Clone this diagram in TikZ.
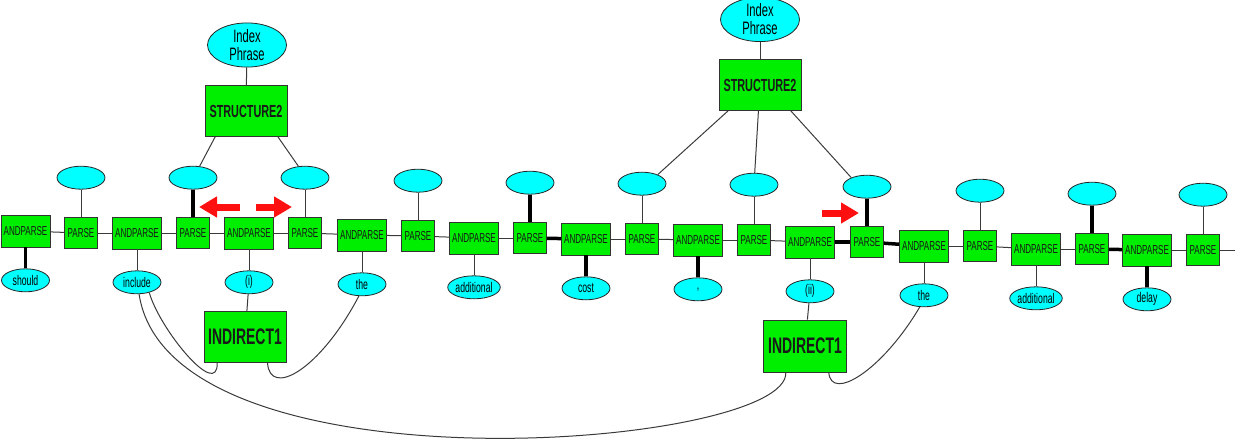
\documentclass[tikz,border=0pt]{standalone}
\usepackage{fontspec}
\usetikzlibrary{arrows.meta,positioning,shapes.geometric}
\newfontfamily\narrowsans[FakeStretch=0.62]{Liberation Sans}
\definecolor{boxgreen}{HTML}{00EE00}
\definecolor{wordcyan}{HTML}{00FFFF}
\definecolor{linkgray}{HTML}{3A3A3A}
\definecolor{markred}{HTML}{FF1010}

\begin{document}
\begin{tikzpicture}[x=1pt,y=1pt,
  greenbox/.style={draw=black!80,fill=boxgreen,line width=0.8pt,inner sep=0pt,text=black!90},
  andbox/.style={greenbox,minimum width=49pt,minimum height=32pt,font=\narrowsans\fontsize{13}{14}\selectfont},
  parsebox/.style={greenbox,minimum width=33pt,minimum height=31pt,font=\narrowsans\fontsize{13}{14}\selectfont},
  rulebox/.style={greenbox,minimum width=82pt,minimum height=51pt},
  topell/.style={ellipse,draw=black!85,fill=wordcyan,line width=0.8pt,inner sep=0pt,minimum width=48pt,minimum height=23pt},
  wordell/.style={topell,font=\narrowsans\fontsize{14}{15}\selectfont},
  phrase/.style={topell,minimum width=79pt,minimum height=38pt,align=center,font=\narrowsans\fontsize{18}{18}\selectfont},
  link/.style={linkgray,line width=1pt},
  heavy/.style={black,line width=3.5pt},
  pointer/.style={markred,line width=7pt,-{Triangle[length=18pt,width=20pt]}}]
  \useasboundingbox (0,0) rectangle (1235,-440);

  % the chain of ANDPARSE / PARSE nodes
  \foreach \i/\ax/\ay/\px/\py/\word in {1/25.5/231/81/233/should, 2/137/233/193/233/include,
      3/249/233/305/233/{(i)}, 4/362/235/418/236/the, 5/474/238/530/238/additional,
      6/586/239/642/239/cost, 7/698/240/754/240/{,}, 8/810/242/867/242/{(ii)},
      9/924/246/980/246/the, 10/1036/249/1092/249/additional, 11/1147/250/1203/250/delay} {
    \node[andbox] (ap\i) at (\ax,-\ay) {ANDPARSE};
    \node[parsebox] (p\i) at (\px,-\py) {PARSE};
    \node[topell, above=27.5pt of p\i] (t\i) {};
    \node[wordell, below=21pt of ap\i] (w\i) {\word};
    \draw[link] (ap\i) -- (w\i);
    \draw[link] (p\i) -- (t\i);
    \draw[link] (ap\i) -- (p\i);
  }
  \foreach \i in {1,...,10} {
    \pgfmathtruncatemacro{\j}{\i+1}
    \draw[link] (p\i) -- (ap\j);
  }
  \coordinate (rowend) at (1235,-250);
  \draw[link] (p11) -- (rowend);
  \foreach \a/\b in {ap1/w1,p2/t2,p5/t5,p5/ap6,ap6/w6,ap7/w7,ap8/p8,p8/t8,p8/ap9,p10/t10,p10/ap11,ap11/w11}
    \draw[heavy] (\a) -- (\b);

  % structures above
  \node[rulebox,font=\narrowsans\bfseries\fontsize{17.5}{18}\selectfont] (st1) at (246,-111) {STRUCTURE2};
  \node[phrase] (ip1) at (247,-45) {Index\\Phrase};
  \node[rulebox,font=\narrowsans\bfseries\fontsize{17.5}{18}\selectfont] (st2) at (760,-85) {STRUCTURE2};
  \node[phrase,minimum height=37pt] (ip2) at (760,-19.5) {Index\\Phrase};
  \draw[link] (ip1) -- (st1);
  \draw[link] (st1.-140) -- (t2.60);
  \draw[link] (st1.-39) -- (t3.120);
  \draw[link] (ip2) -- (st2);
  \draw[link] (st2.-141) -- (t6.30);
  \draw[link] (st2) -- (t7);
  \draw[link] (st2.-40) -- (t8.150);

  % indirect links below
  \node[rulebox,font=\narrowsans\bfseries\fontsize{22.5}{23}\selectfont] (ind1) at (245,-337) {INDIRECT1};
  \node[rulebox,minimum width=83pt,minimum height=52pt,font=\narrowsans\bfseries\fontsize{22.5}{23}\selectfont] (ind2) at (805,-346) {INDIRECT1};
  \draw[link] (w3) -- (ind1);
  \draw[link] (w8) -- (ind2);
  \draw[link] (w2.-40) .. controls (160,-330) and (218,-400) .. (ind1.-137);
  \draw[link] (ind1.-49) .. controls (270,-398) and (320,-370) .. (w4.-105);
  \draw[link] (w2.-80) .. controls (170,-498) and (790,-448) .. (ind2.-126);
  \draw[link] (ind2.-48) .. controls (831,-402) and (882,-371) .. (w9.-110);

  % red pointers
  \coordinate (lefttail) at (240,-207);
  \coordinate (lefttip) at (199,-207);
  \coordinate (righttail) at (256,-207);
  \coordinate (righttip) at (292,-207);
  \coordinate (farTail) at (822,-213);
  \coordinate (farTip) at (859,-213);
  \draw[pointer] (lefttail) -- (lefttip);
  \draw[pointer] (righttail) -- (righttip);
  \draw[pointer] (farTail) -- (farTip);
\end{tikzpicture}
\end{document}
